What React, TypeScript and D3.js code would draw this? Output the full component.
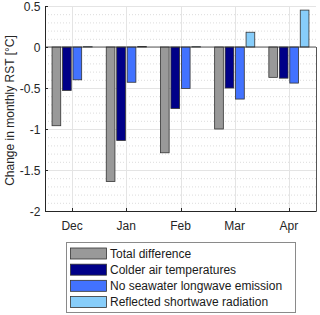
import { useEffect, useRef } from "react";
import * as d3 from "d3";

const months = ["Dec", "Jan", "Feb", "Mar", "Apr"];
const seriesNames = [
  "Total difference",
  "Colder air temperatures",
  "No seawater longwave emission",
  "Reflected shortwave radiation",
];
const totalDiff = [-0.96, -1.64, -1.29, -1.0, -0.37];
const colderAir = [-0.53, -1.14, -0.75, -0.5, -0.38];
const noLongwave = [-0.4, -0.43, -0.505, -0.635, -0.44];
const reflectedSw = [0.004, 0.006, 0.004, 0.18, 0.45];
const yTicks = [0.5, 0, -0.5, -1, -1.5, -2];
const colors = ["#999999", "#000088", "#4272FF", "#87CDFA"];

export default function App() {
  const svgRef = useRef<SVGSVGElement | null>(null);

  useEffect(() => {
    const svg = d3.select(svgRef.current);
    svg.selectAll("*").remove();
    const font = "'Liberation Sans', Arial, sans-serif";
    const fs = 12;
    const values = [totalDiff, colderAir, noLongwave, reflectedSw];

    const left = 45, right = 316, top = 6, bottom = 211;
    const x = d3.scaleLinear().domain([0.5, months.length + 0.5]).range([left, right]);
    const y = d3.scaleLinear().domain([-2, 0.5]).range([bottom, top]);
    const step = x(1) - x(0);
    const inner = d3.scaleBand<number>()
      .domain(d3.range(seriesNames.length))
      .range([-0.37 * step, 0.37 * step])
      .paddingInner(0.17);

    const g = svg.append("g");

    // minor grid
    const minor = d3.range(-20, 6).map(v => v / 10).filter(v => Math.abs(v * 2 - Math.round(v * 2)) > 1e-6);
    g.selectAll(".minor").data(minor).join("line")
      .attr("x1", left).attr("x2", right)
      .attr("y1", d => y(d) + 0.5).attr("y2", d => y(d) + 0.5)
      .attr("stroke", "#dcdcdc").attr("stroke-width", 1).attr("stroke-dasharray", "1,2");
    // major grid
    g.selectAll(".major").data(yTicks).join("line")
      .attr("x1", left).attr("x2", right)
      .attr("y1", d => Math.round(y(d)) + 0.5).attr("y2", d => Math.round(y(d)) + 0.5)
      .attr("stroke", "#e4e4e4").attr("stroke-width", 1);
    g.selectAll(".vgrid").data(months).join("line")
      .attr("x1", (_, i) => Math.round(x(i + 1)) + 0.5).attr("x2", (_, i) => Math.round(x(i + 1)) + 0.5)
      .attr("y1", top).attr("y2", bottom)
      .attr("stroke", "#e4e4e4").attr("stroke-width", 1);

    // bars
    values.forEach((vals, s) => {
      g.append("g").selectAll("rect").data(vals).join("rect")
        .attr("x", (_, i) => x(i + 1) + (inner(s) as number))
        .attr("width", inner.bandwidth())
        .attr("y", d => y(Math.max(0, d)))
        .attr("height", d => Math.abs(y(d) - y(0)))
        .attr("fill", colors[s])
        .attr("stroke", "#333")
        .attr("stroke-width", 0.8);
    });

    // zero baseline
    g.append("line")
      .attr("x1", left).attr("x2", right)
      .attr("y1", y(0)).attr("y2", y(0))
      .attr("stroke", "#333").attr("stroke-width", 0.8);

    // axes
    const axisColor = "#262626";
    g.append("line").attr("x1", left + 0.5).attr("x2", left + 0.5).attr("y1", top).attr("y2", bottom + 0.5)
      .attr("stroke", axisColor);
    g.append("line").attr("x1", left).attr("x2", right + 0.5).attr("y1", bottom + 0.5).attr("y2", bottom + 0.5)
      .attr("stroke", axisColor);
    g.append("line").attr("x1", right + 0.5).attr("x2", right + 0.5).attr("y1", y(0)).attr("y2", bottom + 0.5)
      .attr("stroke", "#555");

    g.selectAll(".ytick").data(yTicks).join("line")
      .attr("x1", left).attr("x2", left + 3)
      .attr("y1", d => Math.round(y(d)) + 0.5).attr("y2", d => Math.round(y(d)) + 0.5)
      .attr("stroke", axisColor);
    g.selectAll(".ylab").data(yTicks).join("text")
      .attr("x", left - 4.5).attr("y", d => y(d))
      .attr("dy", "0.4em").attr("text-anchor", "end")
      .attr("font-family", font).attr("font-size", fs).attr("fill", "#262626")
      .text(d => String(d));

    g.selectAll(".xtick").data(months).join("line")
      .attr("x1", (_, i) => Math.round(x(i + 1)) + 0.5).attr("x2", (_, i) => Math.round(x(i + 1)) + 0.5)
      .attr("y1", bottom).attr("y2", bottom - 3)
      .attr("stroke", axisColor);
    g.selectAll(".xlab").data(months).join("text")
      .attr("x", (_, i) => x(i + 1)).attr("y", bottom + 18.5)
      .attr("text-anchor", "middle")
      .attr("font-family", font).attr("font-size", fs).attr("fill", "#262626")
      .text(d => d);

    g.append("text")
      .attr("transform", `translate(14,${(top + bottom) / 2 + 2}) rotate(-90)`)
      .attr("text-anchor", "middle")
      .attr("font-family", font).attr("font-size", fs).attr("fill", "#262626")
      .text("Change in monthly RST [°C]");

    // legend
    const lg = svg.append("g");
    lg.append("rect").attr("x", 66.5).attr("y", 242.5).attr("width", 229).attr("height", 70)
      .attr("fill", "white").attr("stroke", "#8a8a8a").attr("stroke-width", 1);
    const rowY = d3.scaleLinear().domain([0, 3]).range([253.5, 302]);
    seriesNames.forEach((name, i) => {
      lg.append("rect").attr("x", 70.5).attr("y", rowY(i) - 5.5).attr("width", 36).attr("height", 11)
        .attr("fill", colors[i]).attr("stroke", "#333").attr("stroke-width", 0.8);
      lg.append("text").attr("x", 110).attr("y", rowY(i)).attr("dy", "0.35em")
        .attr("font-family", font).attr("font-size", fs).attr("fill", "#1a1a1a")
        .text(name);
    });
  }, []);

  return (
    <svg ref={svgRef} width={320} height={315}
      style={{ position: "absolute", left: 0, top: 0, background: "white" }} />
  );
}
